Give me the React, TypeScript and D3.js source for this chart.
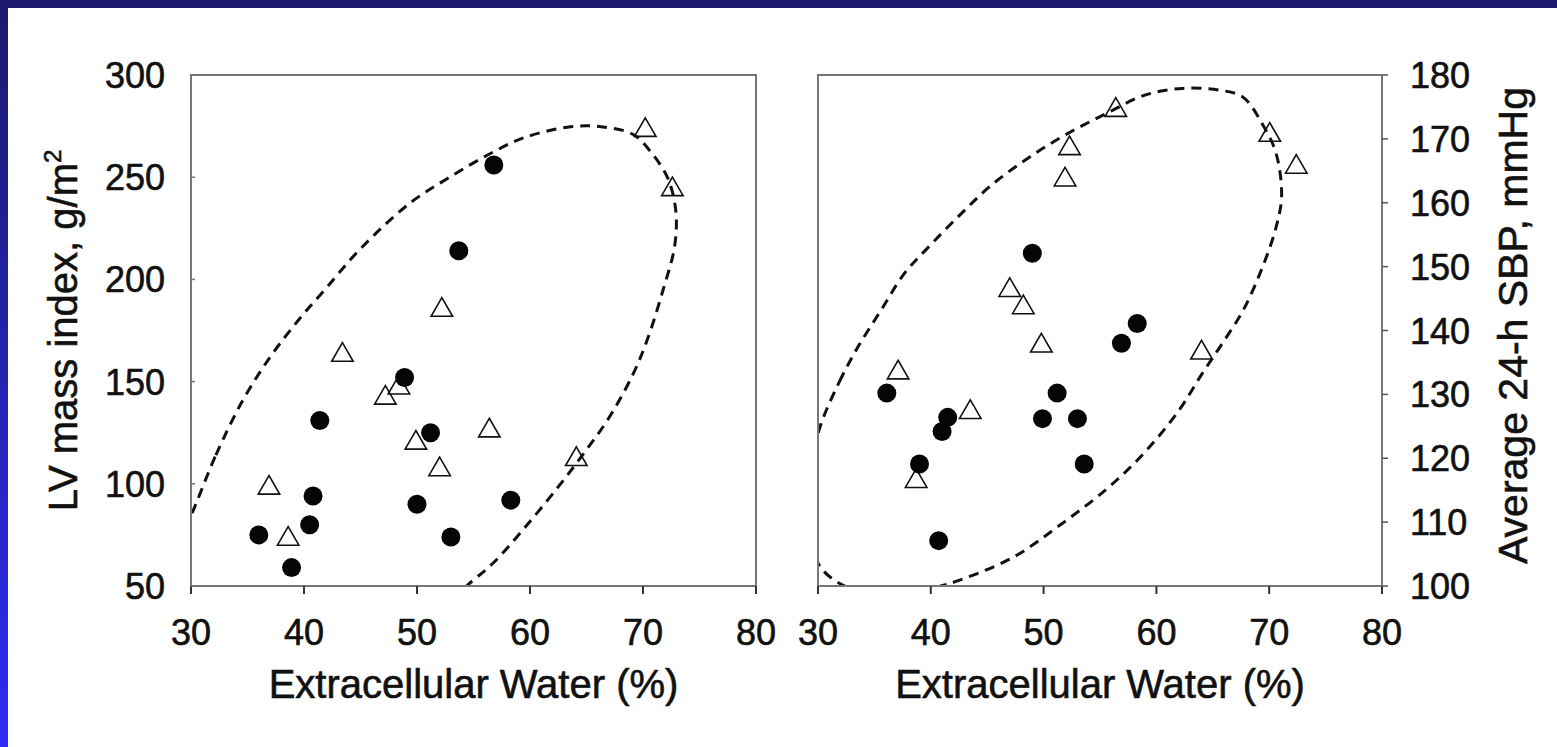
import React from "react";
import * as d3 from "d3";

// Shared x axis: extracellular water, %
const ecwTicks = [30, 40, 50, 60, 70, 80];

// Left panel: LV mass index (g/m²)
const lvmiTicks = [50, 100, 150, 200, 250, 300];
const lvFilledEcw = [56.8, 53.7, 48.9, 41.4, 51.2, 40.8, 50.0, 58.3, 40.5, 36.0, 53.0, 38.9];
const lvFilledLvmi = [256, 214, 152, 131, 125, 94, 90, 92, 80, 75, 74, 59];
const lvOpenEcw = [70.2, 72.6, 52.2, 43.4, 48.4, 47.2, 56.4, 49.9, 52.0, 64.1, 36.9, 38.6];
const lvOpenLvmi = [273, 244, 185, 163, 147, 142, 126, 120, 107, 112, 98, 73];
// Dashed confidence contour (ECW, LVMI)
const lvContourEcw = [30.2, 32.2, 34.5, 37.0, 39.5, 42.0, 45.0, 49.3, 52.7, 56.8, 59.5, 63.6, 66.3, 69.1, 70.8, 72.2, 72.9, 72.8, 71.8, 70.4, 69.1, 67.0, 65.0, 62.6, 59.5, 56.7, 55.0, 52.5, 45.0, 36.0, 29.0, 28.5];
const lvContourLvmi = [87, 114, 140, 162, 180, 196, 215, 237, 249.4, 262.5, 269.4, 274.7, 274.7, 271, 261.6, 249.4, 233.7, 216.2, 195.3, 170.8, 153.4, 132.4, 116.7, 99.2, 78.3, 61, 53, 42, 30, 28, 40, 65];

// Right panel: average 24-h systolic blood pressure (mmHg)
const sbpTicks = [100, 110, 120, 130, 140, 150, 160, 170, 180];
const bpFilledEcw = [49.0, 58.3, 56.9, 36.1, 51.2, 49.9, 53.0, 41.5, 41.0, 39.0, 53.6, 40.7];
const bpFilledSbp = [152.1, 141.1, 138.0, 130.2, 130.2, 126.2, 126.2, 126.4, 124.2, 119.1, 119.1, 107.1];
const bpOpenEcw = [56.4, 52.3, 51.9, 70.05, 72.4, 47.0, 48.2, 49.8, 64.0, 37.1, 43.5, 38.7];
const bpOpenSbp = [174.5, 168.5, 163.6, 170.6, 165.6, 146.3, 143.6, 137.6, 136.5, 133.4, 127.2, 116.4];
const bpContourEcw = [30.2, 31.9, 33.6, 35.6, 37.6, 39.6, 42.7, 45.4, 48.8, 52.2, 55.6, 58.9, 62.3, 65.7, 67.7, 69.4, 70.6, 71.1, 70.6, 69.4, 67.7, 65.7, 64.0, 62.0, 58.9, 55.6, 51.5, 47.4, 43.0, 40.0, 36.0, 33.0, 30.2, 29.2, 29.3];
const bpContourSbp = [125, 132, 137.6, 143.2, 148.8, 152.7, 158.3, 162.8, 167.2, 170.9, 174, 176.8, 177.9, 177.6, 176.5, 172.3, 167.8, 161.1, 156.1, 149.9, 143.2, 137.6, 133.1, 127.5, 120.8, 115.2, 109.6, 104.6, 101.2, 99.6, 98.8, 99.5, 103, 110, 118];

const xAxisTitle = "Extracellular Water (%)";
const FONT = "'Liberation Sans', Arial, Helvetica, sans-serif";

const W = 1557;
const H = 747;
const PLOT_TOP = 75;
const PLOT_BOTTOM = 586;

type Pt = [number, number];
const zip = (a: number[], b: number[]): Pt[] => a.map((v, i) => [v, b[i]]);

interface PanelSpec {
  id: string;
  x0: number;
  x1: number;
  yDomain: [number, number];
  yTicks: number[];
  axisSide: "left" | "right";
  filled: Pt[];
  open: Pt[];
  contour: Pt[];
}

const panels: PanelSpec[] = [
  {
    id: "lvmi",
    x0: 191,
    x1: 756,
    yDomain: [50, 300],
    yTicks: lvmiTicks,
    axisSide: "left",
    filled: zip(lvFilledEcw, lvFilledLvmi),
    open: zip(lvOpenEcw, lvOpenLvmi),
    contour: zip(lvContourEcw, lvContourLvmi),
  },
  {
    id: "sbp",
    x0: 818,
    x1: 1382,
    yDomain: [100, 180],
    yTicks: sbpTicks,
    axisSide: "right",
    filled: zip(bpFilledEcw, bpFilledSbp),
    open: zip(bpOpenEcw, bpOpenSbp),
    contour: zip(bpContourEcw, bpContourSbp),
  },
];

const triangle = d3.symbol().type(d3.symbolTriangle).size(200)();

const textInk = { fill: "#111", stroke: "#111", strokeWidth: 0.6 };

function Panel({ p }: { p: PanelSpec }) {
  const x = d3.scaleLinear().domain([30, 80]).range([p.x0, p.x1]);
  const y = d3.scaleLinear().domain(p.yDomain).range([PLOT_BOTTOM, PLOT_TOP]);
  const line = d3
    .line<Pt>()
    .x((d) => x(d[0]))
    .y((d) => y(d[1]))
    .curve(d3.curveCatmullRomClosed.alpha(0.5));
  const clipId = `clip-${p.id}`;
  const labelX = p.axisSide === "left" ? p.x0 - 26 : p.x1 + 28;
  return (
    <g>
      <defs>
        <clipPath id={clipId}>
          <rect x={p.x0} y={PLOT_TOP} width={p.x1 - p.x0} height={PLOT_BOTTOM - PLOT_TOP} />
        </clipPath>
      </defs>
      <path
        d={line(p.contour) || ""}
        fill="none"
        stroke="#111"
        strokeWidth={3}
        strokeDasharray="10 7"
        clipPath={`url(#${clipId})`}
      />
      <rect
        x={p.x0}
        y={PLOT_TOP}
        width={p.x1 - p.x0}
        height={PLOT_BOTTOM - PLOT_TOP}
        fill="none"
        stroke="#767676"
        strokeWidth={2}
      />
      {ecwTicks.map((t) => (
        <g key={`x${t}`}>
          <line x1={x(t)} x2={x(t)} y1={PLOT_BOTTOM} y2={PLOT_BOTTOM + 8} stroke="#333" strokeWidth={2} />
          <text x={x(t)} y={645} textAnchor="middle" fontSize={36} fontFamily={FONT} {...textInk}>
            {t}
          </text>
        </g>
      ))}
      {p.yTicks.map((t) => (
        <g key={`y${t}`}>
          {p.axisSide === "left" ? (
            <line x1={p.x0} x2={p.x0 + 4} y1={y(t)} y2={y(t)} stroke="#777" strokeWidth={1.5} />
          ) : (
            <line x1={p.x1} x2={p.x1 + 6} y1={y(t)} y2={y(t)} stroke="#555" strokeWidth={1.5} />
          )}
          <text
            x={labelX}
            y={y(t) + 13}
            textAnchor={p.axisSide === "left" ? "end" : "start"}
            fontSize={36}
            fontFamily={FONT}
            {...textInk}
          >
            {t}
          </text>
        </g>
      ))}
      {p.open.map((d, i) => (
        <path
          key={`o${i}`}
          d={triangle || ""}
          transform={`translate(${x(d[0])},${y(d[1])})`}
          fill="none"
          stroke="#111"
          strokeWidth={1.6}
        />
      ))}
      {p.filled.map((d, i) => (
        <circle key={`f${i}`} cx={x(d[0])} cy={y(d[1])} r={9.5} fill="#050505" />
      ))}
      <text
        x={(p.x0 + p.x1) / 2}
        y={698}
        textAnchor="middle"
        fontSize={40}
        fontFamily={FONT}
        {...textInk}
      >
        {xAxisTitle}
      </text>
    </g>
  );
}

export default function App() {
  const midY = (PLOT_TOP + PLOT_BOTTOM) / 2;
  return (
    <svg
      width={W}
      height={H}
      viewBox={`0 0 ${W} ${H}`}
      style={{ position: "absolute", left: 0, top: 0, display: "block", background: "#fff" }}
    >
      <defs>
        <linearGradient id="frameSide" x1="0" y1="0" x2="0" y2="1">
          <stop offset="0%" stopColor="#1b1a6c" />
          <stop offset="100%" stopColor="#2d2cf3" />
        </linearGradient>
      </defs>
      <rect x={0} y={0} width={W} height={H} fill="#fff" />
      <rect x={0} y={0} width={W} height={8} fill="#1b1a6c" />
      <rect x={0} y={0} width={8} height={H} fill="url(#frameSide)" />

      {panels.map((p) => (
        <Panel key={p.id} p={p} />
      ))}

      <text
        transform={`translate(77,${midY}) rotate(-90)`}
        textAnchor="middle"
        fontSize={40}
        fontFamily={FONT}
        {...textInk}
      >
        LV mass index, g/m
        <tspan dy={-16} fontSize={24}>2</tspan>
      </text>
      <text
        transform={`translate(1527,${midY - 5}) rotate(-90)`}
        textAnchor="middle"
        fontSize={41}
        fontFamily={FONT}
        {...textInk}
      >
        Average 24-h SBP, mmHg
      </text>
    </svg>
  );
}
